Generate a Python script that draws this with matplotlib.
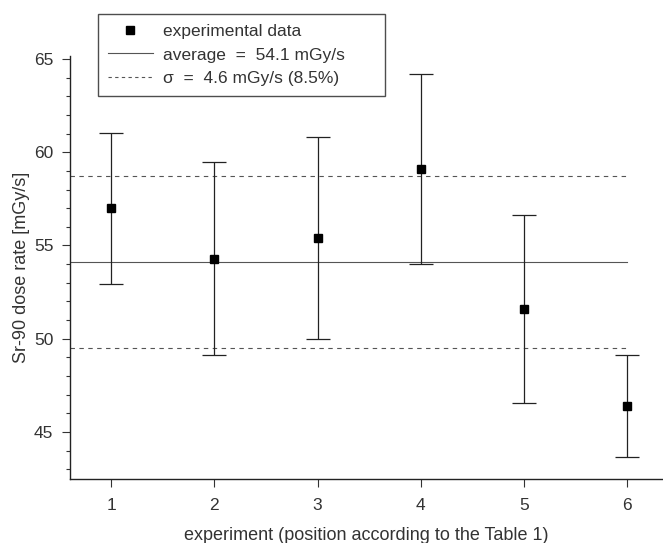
import matplotlib
matplotlib.use("Agg")
import matplotlib.pyplot as plt
from matplotlib.lines import Line2D
from matplotlib.ticker import MultipleLocator

plt.rcParams['font.family'] = ['Liberation Sans', 'DejaVu Sans']

experiments = [1, 2, 3, 4, 5, 6]
dose_rate = [57.0, 54.3, 55.4, 59.1, 51.6, 46.4]
dose_err = [4.05, 5.15, 5.4, 5.1, 5.05, 2.75]
average = 54.1
sigma = 4.6

text_col = "#333333"
line_col = "#555555"

fig = plt.figure(figsize=(6.63, 5.43), dpi=100)
ax = fig.add_axes([70 / 663, 64 / 543, 593 / 663, 423 / 543])

ax.errorbar(experiments, dose_rate, yerr=dose_err, fmt="s", color="black",
            markersize=5.5, ecolor="#222222", elinewidth=0.9, capsize=8.5,
            capthick=0.9, zorder=3)

ax.plot([0.6, 6.0], [average, average], color=line_col, lw=0.8)
ax.plot([0.6, 6.0], [average + sigma] * 2, color=line_col, lw=0.8, ls=(0, (4, 4)))
ax.plot([0.6, 6.0], [average - sigma] * 2, color=line_col, lw=0.8, ls=(0, (4, 4)))

ax.set_xlim(0.6, 6.35)
ax.set_ylim(42.48, 65.16)
ax.set_xticks(experiments)
ax.yaxis.set_major_locator(MultipleLocator(5))
ax.yaxis.set_minor_locator(MultipleLocator(1))

for side in ("top", "right"):
    ax.spines[side].set_visible(False)
for side in ("left", "bottom"):
    ax.spines[side].set_linewidth(1.0)
    ax.spines[side].set_color("#222222")

ax.tick_params(axis="both", which="major", direction="out", length=6,
               width=0.8, color="#333333", labelsize=12.5, labelcolor=text_col)
ax.tick_params(axis="y", which="minor", direction="out", length=3,
               width=0.8, color="#333333")
ax.tick_params(axis="x", pad=8)
ax.tick_params(axis="y", pad=6)

ax.set_xlabel("experiment (position according to the Table 1)", fontsize=13,
              color=text_col, labelpad=10)
ax.set_ylabel("Sr-90 dose rate [mGy/s]", fontsize=13, color=text_col,
              labelpad=3)

handles = [
    Line2D([], [], ls="none", marker="s", color="black", markersize=5.5),
    Line2D([], [], color=line_col, lw=0.8),
    Line2D([], [], color=line_col, lw=0.8, ls=(0, (3, 3))),
]
labels = [
    "experimental data",
    "average  =  54.1 mGy/s",
    "\u03c3  =  4.6 mGy/s (8.5%)",
]
leg_w, leg_h = 287 / 663, 83 / 543
leg = fig.legend(handles, labels, loc="upper left", mode="expand",
                 bbox_to_anchor=(98 / 663, 1 - 14 / 543 - leg_h, leg_w, leg_h),
                 fontsize=12.5, frameon=True, fancybox=False,
                 handlelength=2.6, handletextpad=0.6, borderaxespad=0,
                 labelspacing=0.5, borderpad=0.55)
leg.get_frame().set_edgecolor("#222222")
leg.get_frame().set_linewidth(1.0)
for t in leg.get_texts():
    t.set_color(text_col)

fig.savefig("out.png", dpi=100)
